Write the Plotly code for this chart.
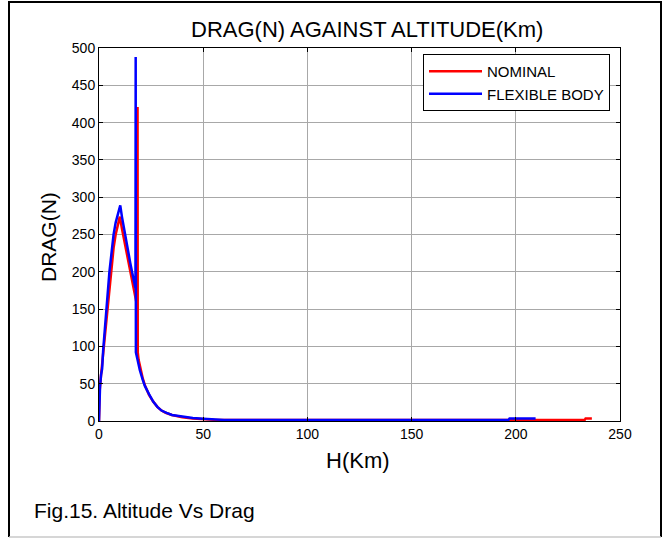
import plotly.graph_objects as go

# ---- data ----
nominal_h = [0, 0.3, 1, 2, 3, 4, 5, 6, 7, 8, 9, 10, 11, 12, 13, 14, 15, 16, 17, 18.0,
             18.3, 18.5, 18.6, 19, 20, 21, 22, 23, 24, 26, 28, 30, 32, 35, 38, 40, 45,
             50, 55, 60, 100, 150, 200, 233, 233.5, 236.5]
nominal_d = [0, 40, 62, 90, 120, 150, 180, 210, 232, 250, 264, 274, 258, 244, 229, 214, 200,
             186, 172, 158, 160, 421, 92, 82, 67, 57, 48, 41, 35, 26, 19, 14, 11, 8, 6, 5, 3.5,
             2.5, 1.8, 1.5, 1.3, 1.2, 1.2, 1.2, 3.5, 3.5]

flex_h = [0, 0.2, 0.5, 1, 1.5, 2, 3, 4, 5, 6, 7, 8, 9, 10.2, 11, 12, 13, 14, 15, 16, 16.8,
          17.5, 17.6, 17.7, 18.5, 19.6, 21, 22, 24, 26, 28, 30, 32.4, 35, 40, 45, 50, 55,
          60, 100, 150, 196.5, 197, 209.5]
flex_d = [0, 30, 46, 62, 70, 95, 125, 165, 200, 230, 250, 266, 278, 289, 274, 257, 241, 225,
          212, 198, 186, 178, 488, 92, 82, 68, 55, 47, 36, 26, 19, 14, 11, 8, 6, 4, 3, 2,
          1.5, 1.5, 1.5, 1.5, 3.5, 3.5]

x_ticks = [0, 50, 100, 150, 200, 250]
y_ticks = [0, 50, 100, 150, 200, 250, 300, 350, 400, 450, 500]

title_text = "DRAG(N) AGAINST ALTITUDE(Km)"
x_label = "H(Km)"
y_label = "DRAG(N)"
caption = "Fig.15. Altitude Vs Drag"

W, H = 663, 541
L, R, T, B = 99, 620, 48, 421


def px(xp):
    return (xp - L) / (R - L)


def py(yp):
    return (B - yp) / (B - T)


FONT = "Liberation Sans, Arial, sans-serif"

fig = go.Figure()
fig.add_trace(go.Scatter(x=nominal_h, y=nominal_d, mode="lines", name="NOMINAL",
                         line=dict(color="#ff0000", width=2.5)))
fig.add_trace(go.Scatter(x=flex_h, y=flex_d, mode="lines", name="FLEXIBLE BODY",
                         line=dict(color="#0000ff", width=2.5)))

axis_common = dict(showline=True, linecolor="black", linewidth=1, mirror="allticks",
                   ticks="inside", ticklen=4, tickcolor="black", showgrid=True,
                   gridcolor="#a8a8a8", gridwidth=1, zeroline=False,
                   tickfont=dict(family=FONT, size=14, color="black"))

fig.update_xaxes(range=[0, 250], tickvals=x_ticks, ticktext=[str(v) for v in x_ticks],
                 **axis_common)
fig.update_yaxes(range=[0, 500], tickvals=y_ticks, ticktext=[str(v) for v in y_ticks],
                 **axis_common)

fig.update_layout(
    width=W, height=H,
    margin=dict(l=L, r=W - R, t=T, b=H - B),
    paper_bgcolor="white", plot_bgcolor="white",
    font=dict(family=FONT, color="black"),
    showlegend=True,
    legend=dict(x=px(423), y=py(54), xanchor="left", yanchor="top",
                bgcolor="white", bordercolor="black", borderwidth=1,
                font=dict(family=FONT, size=15, color="black"),
                tracegroupgap=0, itemwidth=53),
)

annotations = [
    dict(text=title_text, x=px(367), y=py(30), font=dict(size=22)),
    dict(text=x_label, x=px(358), y=py(460), font=dict(size=22)),
    dict(text=y_label, x=px(48), y=py(237), font=dict(size=21), textangle=-90),
    dict(text=caption, x=px(32), y=py(510), xanchor="left", font=dict(size=21)),
]
for a in annotations:
    a.setdefault("xanchor", "center")
    fig.add_annotation(xref="paper", yref="paper", showarrow=False, yanchor="middle",
                       **a)

# outer frame
fig.add_shape(type="path", xref="paper", yref="paper",
              path=f"M {px(9)},{py(537)} L {px(9)},{py(2)} L {px(661)},{py(2)} L {px(661)},{py(537)}",
              line=dict(color="black", width=2), layer="below")
fig.add_shape(type="line", xref="paper", yref="paper",
              x0=px(9), x1=px(661), y0=py(537), y1=py(537),
              line=dict(color="#c8c8c8", width=1.5), layer="below")

fig.write_html("out.html")
